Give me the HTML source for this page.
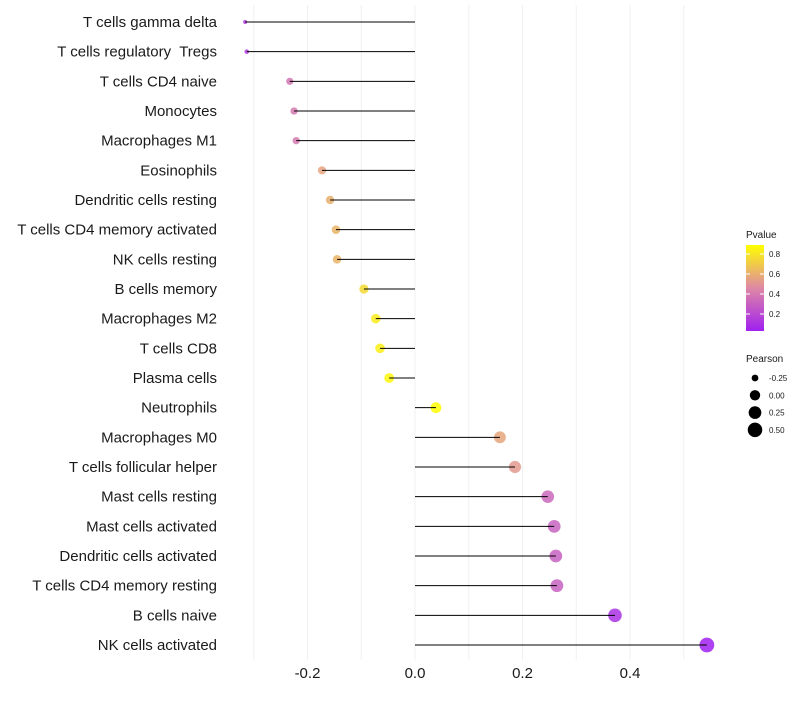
<!DOCTYPE html>
<html><head><meta charset="utf-8"><style>
body{margin:0;background:#fff;font-family:"Liberation Sans",sans-serif}
svg text{font-family:"Liberation Sans",sans-serif;white-space:pre}
</style></head><body>
<svg id="chart" width="800" height="700"></svg>
<script>
const categories=["T cells gamma delta","T cells regulatory  Tregs","T cells CD4 naive","Monocytes","Macrophages M1","Eosinophils","Dendritic cells resting","T cells CD4 memory activated","NK cells resting","B cells memory","Macrophages M2","T cells CD8","Plasma cells","Neutrophils","Macrophages M0","T cells follicular helper","Mast cells resting","Mast cells activated","Dendritic cells activated","T cells CD4 memory resting","B cells naive","NK cells activated"];
const pearson=[-0.316,-0.313,-0.233,-0.225,-0.221,-0.173,-0.158,-0.147,-0.145,-0.095,-0.073,-0.065,-0.048,0.039,0.158,0.186,0.247,0.259,0.262,0.264,0.372,0.543];
const pvalue=[0.13,0.14,0.38,0.4,0.4,0.56,0.6,0.62,0.62,0.76,0.82,0.83,0.86,0.89,0.57,0.52,0.33,0.31,0.3,0.3,0.1,0.03];
const xTicks=[-0.2,0,0.2,0.4];
const xTickLabels=["-0.2","0.0","0.2","0.4"];
const legendP=[0.2,0.4,0.6,0.8];
const legendPearson=[-0.25,0,0.25,0.5];

const NS="http://www.w3.org/2000/svg",svg=document.getElementById('chart');
function el(t,a,p){const e=document.createElementNS(NS,t);for(const k in a)e.setAttribute(k,a[k]);(p||svg).appendChild(e);return e;}
const x=v=>415+v*537.5;
const n=categories.length;
const y=i=>22+i*(645-22)/(n-1);
const pMin=0.03,pMax=0.89;
function col(p){let t=Math.max(0,Math.min(1,(p-pMin)/(pMax-pMin)));const s=[[160,32,240],[222,136,165],[255,255,0]];let a,b,u;if(t<0.5){a=s[0];b=s[1];u=t*2}else{a=s[1];b=s[2];u=(t-0.5)*2}return`rgb(${a.map((c,i)=>Math.round(c+(b[i]-c)*u)).join(',')})`;}
const rMin=2.0,rMax=7.4,vMin=-0.316,vMax=0.543;
function rad(v){const t=Math.max(0,(v-vMin)/(vMax-vMin));return Math.sqrt(rMin*rMin+Math.sqrt(t)*0.35*(rMax*rMax-rMin*rMin)+t*0.65*(rMax*rMax-rMin*rMin));}
[-0.3,-0.2,-0.1,0,0.1,0.2,0.3,0.4,0.5].forEach(g=>{const l=el('line',{x1:x(g),x2:x(g),y1:5,y2:660,stroke:'#f0f0f0','stroke-width':1});});
categories.forEach((c,i)=>{
 const t=el('text',{x:217,y:y(i)+5,'text-anchor':'end','font-size':15,fill:'#1a1a1a'});t.setAttributeNS("http://www.w3.org/XML/1998/namespace","xml:space","preserve");t.textContent=c;
 
 const pt=el('circle',{cx:x(pearson[i]),cy:y(i),r:rad(pearson[i]),fill:col(pvalue[i]),'fill-opacity':0.85});
 
 const ln=el('line',{x1:x(0),x2:x(pearson[i]),y1:y(i),y2:y(i),stroke:'#000','stroke-width':1});
 
});
xTicks.forEach((v,i)=>{const t=el('text',{x:x(v),y:678,'text-anchor':'middle','font-size':15,fill:'#1a1a1a'});t.textContent=xTickLabels[i];
 });
const defs=el('defs',{});const gr=el('linearGradient',{id:'g',x1:0,y1:1,x2:0,y2:0},defs);
for(let k=0;k<=10;k++){el('stop',{offset:k/10,'stop-color':col(pMin+(pMax-pMin)*k/10)},gr);}
const lt=el('text',{x:746,y:238,'font-size':10,fill:'#1a1a1a'});lt.textContent='Pvalue';
const cb=el('rect',{x:746,y:245,width:18,height:86,fill:'url(#g)'});
const py=p=>331-(p-pMin)/(pMax-pMin)*86;
legendP.forEach(p=>{el('line',{x1:746,x2:750,y1:py(p),y2:py(p),stroke:'#fff'});el('line',{x1:760,x2:764,y1:py(p),y2:py(p),stroke:'#fff'});
 const t=el('text',{x:769,y:py(p)+3,'font-size':8,fill:'#1a1a1a'});t.textContent=p.toFixed(1);});
const st=el('text',{x:746,y:362,'font-size':10,fill:'#1a1a1a'});st.textContent='Pearson';
legendPearson.forEach((v,i)=>{const cy=378+i*17.3;const c=el('circle',{cx:755,cy:cy,r:rad(v),fill:'#000'});
 const t=el('text',{x:769,y:cy+3,'font-size':8,fill:'#1a1a1a'});t.textContent=v.toFixed(2);});
</script></body></html>
